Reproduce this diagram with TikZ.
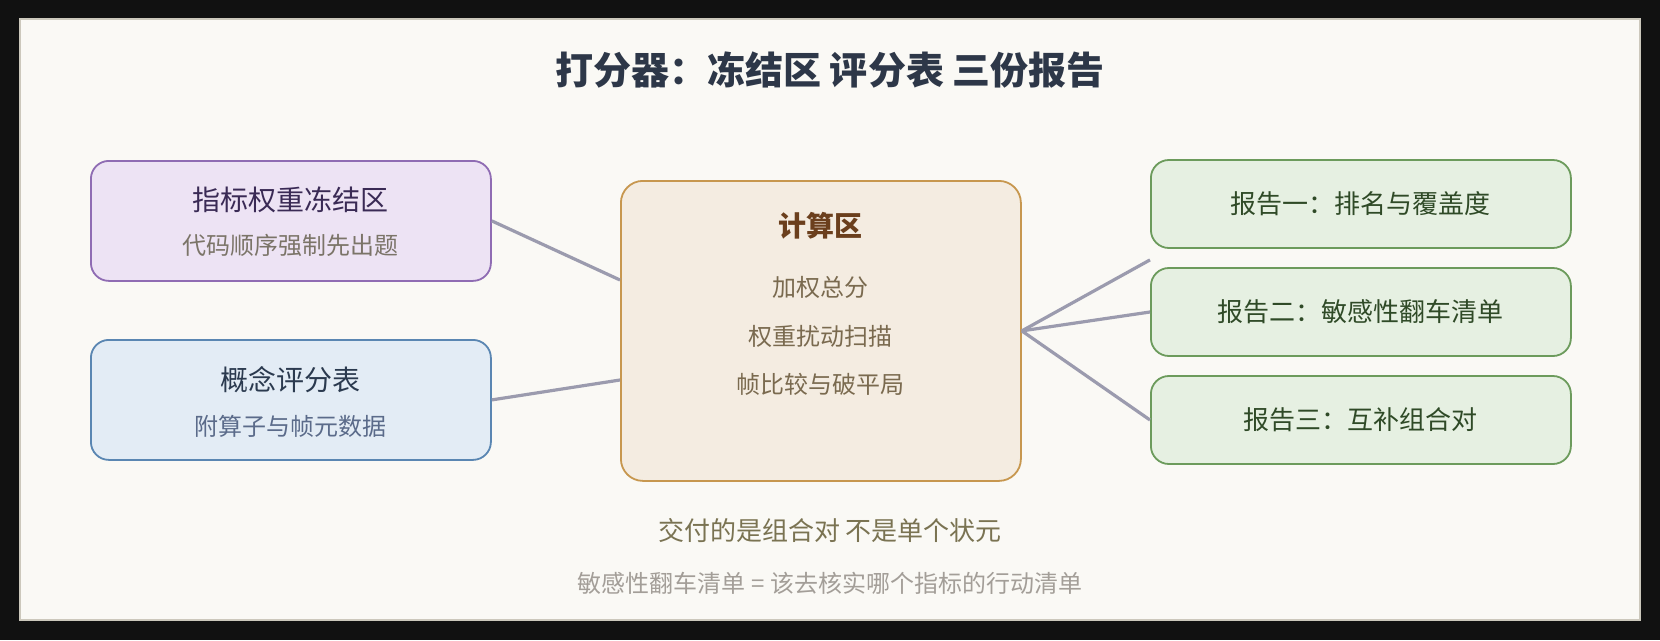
\documentclass[tikz,border=0pt]{standalone}
\usepackage{fontspec}
\setmainfont{Noto Sans CJK SC}
\usetikzlibrary{calc}

\definecolor{framebg}{HTML}{111111}
\definecolor{panelbg}{HTML}{FAF9F5}
\definecolor{panelline}{HTML}{CCC8BC}
\definecolor{titleink}{HTML}{2D3748}
\definecolor{frzfill}{HTML}{EDE3F4}
\definecolor{frzline}{HTML}{8F6CB3}
\definecolor{frzink}{HTML}{3A2A55}
\definecolor{frzsub}{HTML}{7B7468}
\definecolor{scrfill}{HTML}{E3ECF5}
\definecolor{scrline}{HTML}{5A86B2}
\definecolor{scrink}{HTML}{2B3A4F}
\definecolor{scrsub}{HTML}{5B6B8A}
\definecolor{calcfill}{HTML}{F4ECE1}
\definecolor{calcline}{HTML}{C7974F}
\definecolor{calcink}{HTML}{6B3F1D}
\definecolor{calcsub}{HTML}{7A6A4F}
\definecolor{repfill}{HTML}{E6F0E2}
\definecolor{repline}{HTML}{6C9B5C}
\definecolor{repink}{HTML}{2F4A27}
\definecolor{linkgrey}{HTML}{9B9BAE}
\definecolor{noteink}{HTML}{7A7352}
\definecolor{hintink}{HTML}{A39E98}

\begin{document}
\begin{tikzpicture}[x=1pt,y=-1pt,
  box/.style={draw, line width=1.8pt, rounded corners=18pt, inner sep=0pt, anchor=north west},
  sidebox/.style={box, minimum width=400pt, minimum height=120pt},
  repbox/.style={box, draw=repline, fill=repfill, text=repink, font=\fontsize{26}{30}\selectfont,
    minimum width=420pt, minimum height=88pt, anchor=west},
  link/.style={draw=linkgrey, line width=3.2pt},
  head/.style={font=\fontsize{28}{32}\selectfont},
  sub/.style={font=\fontsize{24}{28}\selectfont}]
  % frame and panel
  \fill[framebg] (0,0) rectangle (1660,640);
  \filldraw[fill=panelbg, draw=panelline, line width=1.5pt] (20,19) rectangle (1640,620);
  \node[font=\bfseries\fontsize{38}{44}\selectfont, text=titleink] (title) at (830,70) {打分器：冻结区 评分表 三份报告};

  % inputs
  \node[sidebox, draw=frzline, fill=frzfill] (frz) at (90,160) {};
  \node[head, text=frzink] at (290,200) {指标权重冻结区};
  \node[sub, text=frzsub] at (290,245) {代码顺序强制先出题};

  \node[sidebox, draw=scrline, fill=scrfill] (scr) at (90,339) {};
  \node[head, text=scrink] at (290,380) {概念评分表};
  \node[sub, text=scrsub] at (290,426) {附算子与帧元数据};

  % compute zone
  \node[box, draw=calcline, fill=calcfill, minimum width=400pt, minimum height=300pt, rounded corners=22pt] (calc) at (620,180) {};
  \node[head, font=\bfseries\fontsize{28}{32}\selectfont, text=calcink] at (820,226) {计算区};
  \node[sub, text=calcsub] at (820,287) {加权总分};
  \node[sub, text=calcsub] at (820,336) {权重扰动扫描};
  \node[sub, text=calcsub] at (820,384) {帧比较与破平局};

  % reports
  \node[repbox] (rep1) at (1150,204) {报告一：排名与覆盖度};
  \node[repbox] (rep2) at (1150,312) {报告二：敏感性翻车清单};
  \node[repbox] (rep3) at (1150,420) {报告三：互补组合对};
  \coordinate (rep1end) at ($(rep1.south west)+(0,11)$);

  % links
  \draw[link] (frz.east) -- ($(calc.north west)+(0,100)$);
  \draw[link] (scr.east) -- ($(calc.north west)+(0,200)$);
  \draw[link] (calc.east) -- (rep1end);
  \draw[link] (calc.east) -- (rep2.west);
  \draw[link] (calc.east) -- (rep3.west);

  % notes
  \node[font=\fontsize{26}{30}\selectfont, text=noteink] (note) at (830,531) {交付的是组合对 不是单个状元};
  \node[font=\fontsize{24}{28}\selectfont, text=hintink] (hint) at (830,583) {敏感性翻车清单 = 该去核实哪个指标的行动清单};
\end{tikzpicture}
\end{document}
